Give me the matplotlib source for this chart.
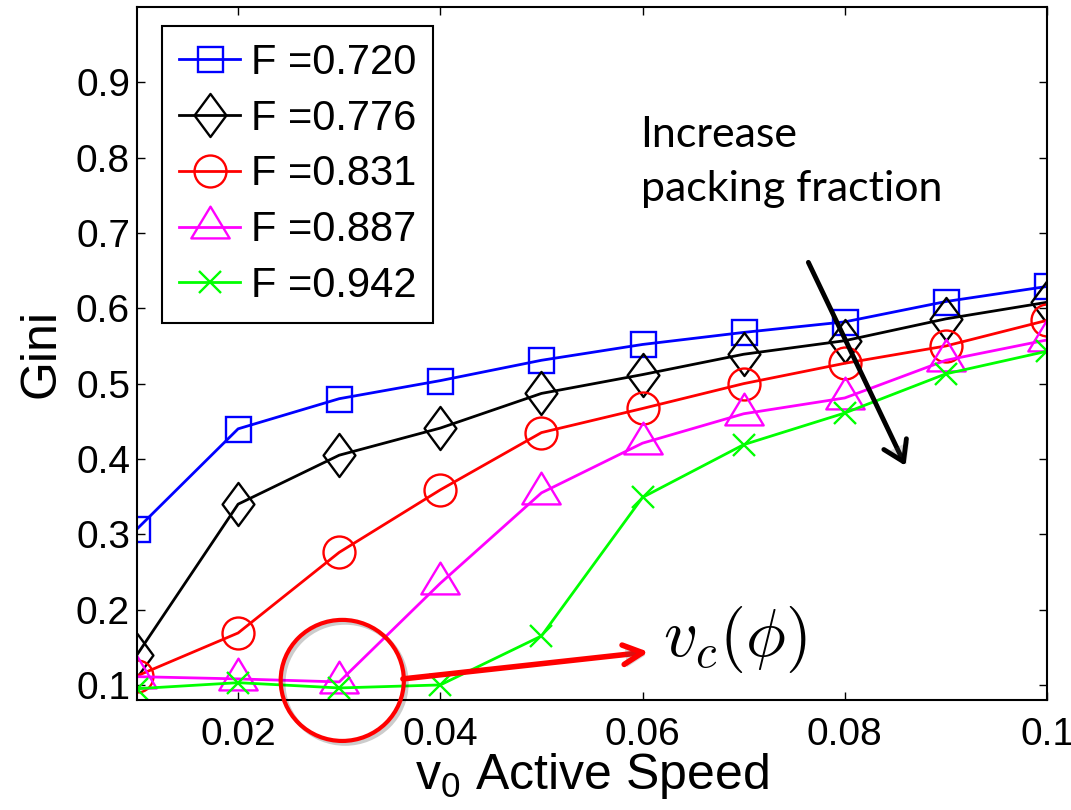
import matplotlib
matplotlib.use("Agg")
import matplotlib.pyplot as plt
import matplotlib.patheffects as pe
from matplotlib.path import Path
from matplotlib.patches import Ellipse

plt.rcParams['font.family'] = ['Liberation Sans', 'DejaVu Sans']
plt.rcParams['mathtext.fontset'] = 'custom'
plt.rcParams['mathtext.rm'] = 'Liberation Sans'
plt.rcParams['mathtext.it'] = 'Liberation Sans:italic'

# data
v0 = [0.01, 0.02, 0.03, 0.04, 0.05, 0.06, 0.07, 0.08, 0.09, 0.10]
labels = ["F =0.720", "F =0.776", "F =0.831", "F =0.887", "F =0.942"]
gini_0720 = [0.307, 0.440, 0.480, 0.504, 0.531, 0.552, 0.568, 0.582, 0.609, 0.629]
gini_0776 = [0.140, 0.340, 0.405, 0.441, 0.487, 0.512, 0.539, 0.557, 0.586, 0.608]
gini_0831 = [0.112, 0.169, 0.276, 0.359, 0.435, 0.467, 0.500, 0.527, 0.550, 0.584]
gini_0887 = [0.111, 0.108, 0.104, 0.235, 0.355, 0.421, 0.460, 0.481, 0.531, 0.558]
gini_0942 = [0.095, 0.103, 0.096, 0.100, 0.165, 0.349, 0.419, 0.461, 0.513, 0.543]
x_ticks = [0.02, 0.04, 0.06, 0.08, 0.1]
x_ticklabels = ["0.02", "0.04", "0.06", "0.08", "0.1"]
y_ticks = [0.1, 0.2, 0.3, 0.4, 0.5, 0.6, 0.7, 0.8, 0.9]

# matlab-like markers
diamond = Path([(0, 1), (0.74, 0), (0, -1), (-0.74, 0), (0, 1)], closed=True)
triangle = Path([(0, 63), (-58, -33), (58, -33), (0, 63)], closed=True)

styles = [
    (gini_0720, 'blue', 's', 18),
    (gini_0776, 'black', diamond, 31),
    (gini_0831, 'red', 'o', 23),
    (gini_0887, 'magenta', triangle, 30),
    (gini_0942, 'lime', 'x', 16),
]

fig = plt.figure(figsize=(10.71, 8.10), dpi=100)
ax = fig.add_axes([137/1071, 1 - 700/810, 910/1071, 693/810])

for (vals, col, mk, ms), lab in zip(styles, labels):
    ax.plot(v0, vals, color=col, lw=2, marker=mk, ms=ms, mfc='none',
            mec=col, mew=1.7, label=lab)

ax.set_xlim(0.01, 0.1)
ax.set_ylim(0.08, 1.0)
ax.set_xticks(x_ticks)
ax.set_xticklabels(x_ticklabels)
ax.set_yticks(y_ticks)
ax.tick_params(direction='in', length=6, width=1, top=True, right=True,
               labelsize=28)
ax.tick_params(axis='x', pad=12)
ax.tick_params(axis='y', pad=5)
for s in ax.spines.values():
    s.set_linewidth(1.5)

ax.set_xlabel(r"$\mathregular{v_0}$ Active Speed", fontsize=36, labelpad=-1)
ax.set_ylabel("Gini", fontsize=36, labelpad=8)

leg = ax.legend(loc='upper left', bbox_to_anchor=(162/1071, 1 - 26/810),
                bbox_transform=fig.transFigure, borderaxespad=0,
                fontsize=30, handlelength=1.48, handletextpad=0.26,
                labelspacing=0.38, borderpad=0.4, fancybox=False,
                framealpha=1)
leg.get_frame().set_edgecolor('black')
leg.get_frame().set_linewidth(1.5)

shadow = [pe.SimplePatchShadow(offset=(2, -2), alpha=0.2), pe.Normal()]
ring_shadow = [pe.SimpleLineShadow(offset=(2, -2), alpha=0.2), pe.Normal()]

ax.text(0.0598, 0.855, "Increase\npacking fraction", fontsize=31,
        family=['Lato', 'DejaVu Sans'], ha='left', va='top', linespacing=1.5)
ax.annotate('', xy=(0.086, 0.391), xytext=(0.0764, 0.661),
            arrowprops=dict(arrowstyle='->,head_length=1.4,head_width=0.9',
                            lw=3.5, color='black', shrinkA=0, shrinkB=0,
                            path_effects=shadow))

circ = Ellipse((0.0303, 0.106), 0.01218, 0.1607, fill=False, ec='red',
               lw=3, clip_on=False, zorder=5, path_effects=ring_shadow)
ax.add_patch(circ)
ax.annotate('', xy=(0.0606, 0.1438), xytext=(0.0363, 0.108),
            arrowprops=dict(arrowstyle='->,head_length=1.4,head_width=0.7',
                            lw=4, color='red', shrinkA=0, shrinkB=0,
                            path_effects=shadow), zorder=6)
ax.text(0.062, 0.1385, r"$v_c(\phi)$", fontsize=48, math_fontfamily='cm',
        ha='left', va='baseline')

fig.savefig("out.png", dpi=100)
